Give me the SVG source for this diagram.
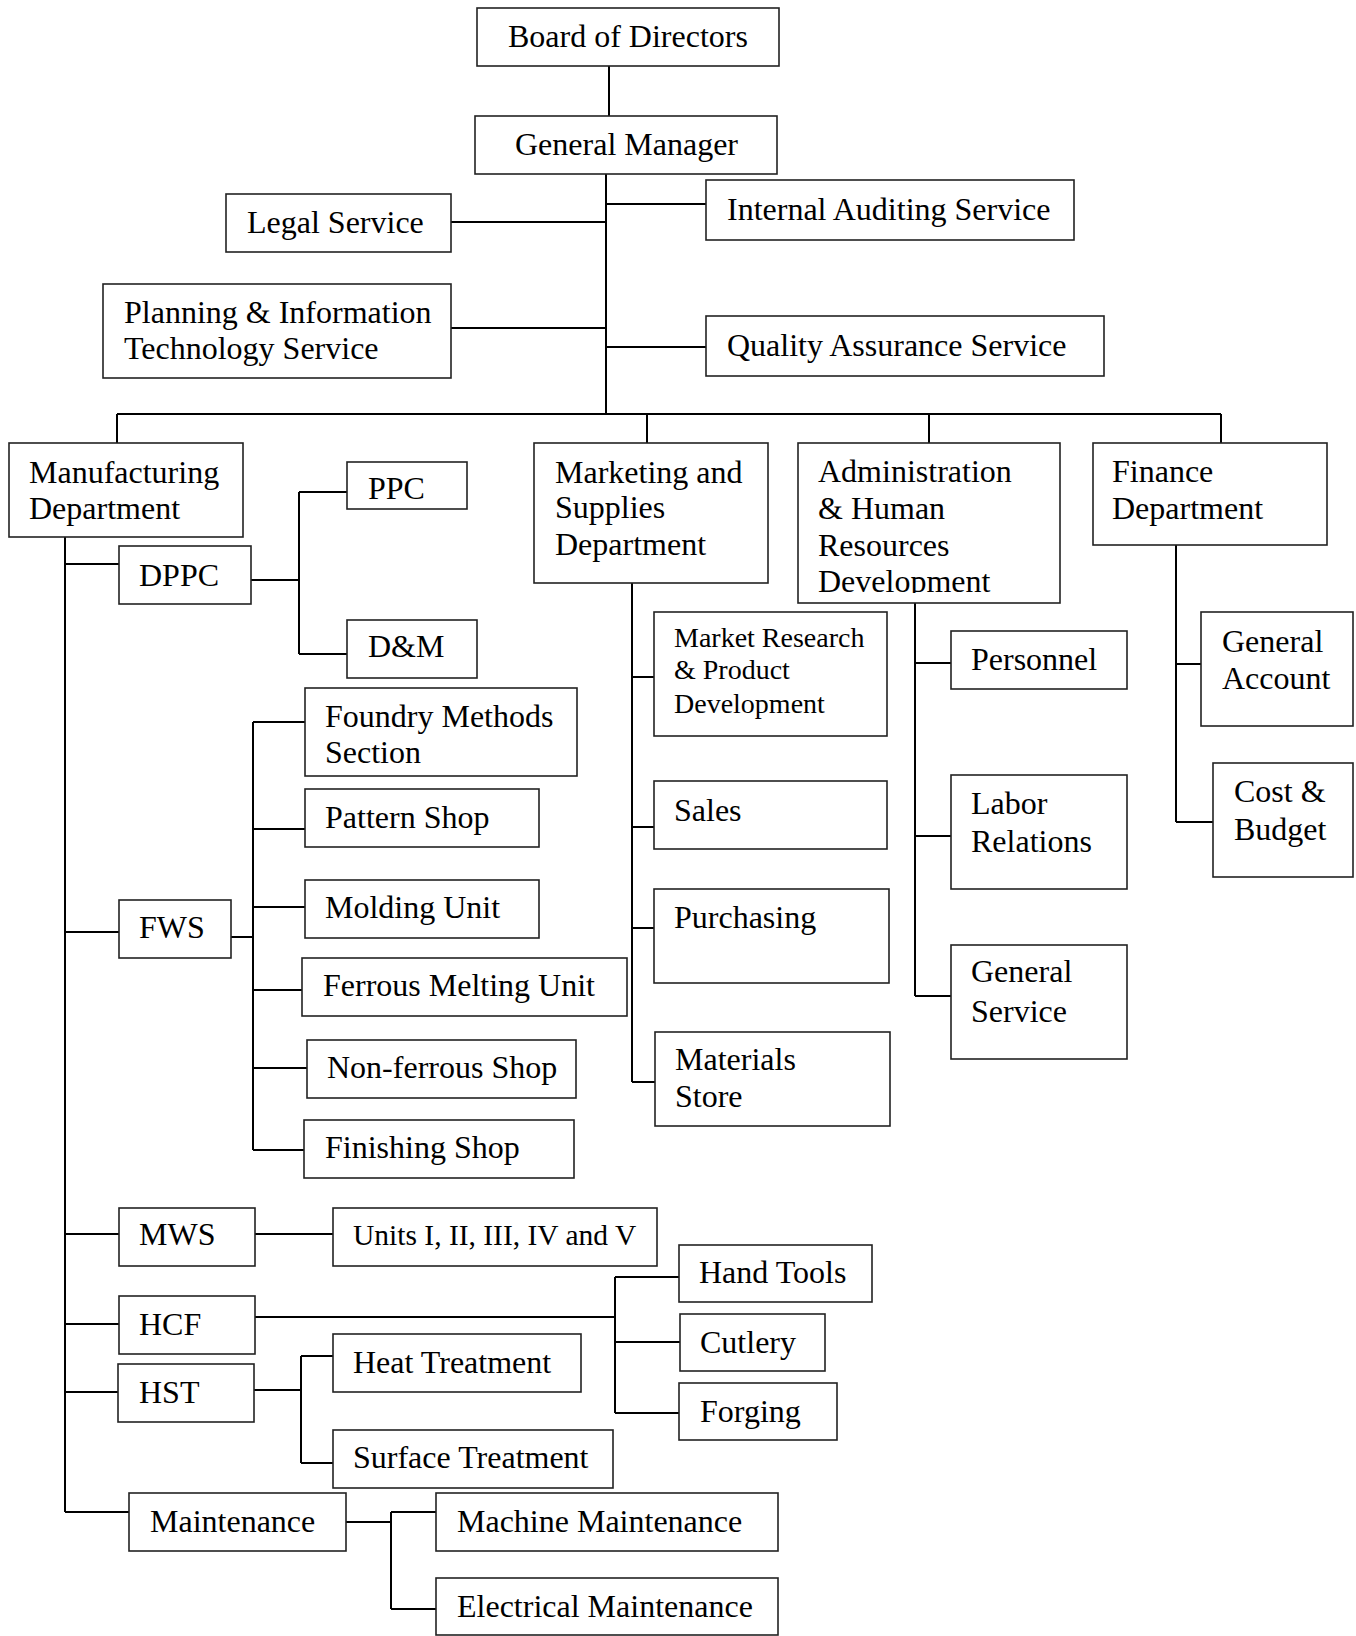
<svg xmlns="http://www.w3.org/2000/svg" width="1356" height="1636" viewBox="0 0 1356 1636">
<style>
rect{fill:#fff;stroke:#222;stroke-width:1.6}
text{font-family:"Liberation Serif","Times New Roman",serif;font-size:32px;fill:#000}
text.s{font-size:28px}
text.u{font-size:29.5px}
#connectors path{fill:none;stroke:#000;stroke-width:2}
</style>
<defs>
<clipPath id="clipAdmin"><rect x="790" y="440" width="280" height="153"/></clipPath>
<clipPath id="clipPPC"><rect x="340" y="455" width="140" height="45"/></clipPath>
</defs>
<rect x="0" y="0" width="1356" height="1636" style="fill:#fff;stroke:none"/>
<g id="connectors">
<path d="M609,66V116"/>
<path d="M606,174V414"/>
<path d="M606,204H706"/>
<path d="M451,222H606"/>
<path d="M451,328H606"/>
<path d="M606,347H706"/>
<path d="M117,414H1221M117,414V443M647,414V443M929,414V443M1221,414V443"/>
<path d="M65,537V1512"/>
<path d="M65,564H119M251,580H299M299,492V654M299,492H347M299,654H347"/>
<path d="M65,932H119M231,937H253M253,722V1150M253,722H305M253,829H305M253,907H305M253,990H302M253,1068H307M253,1150H304"/>
<path d="M65,1234H119M255,1234H333"/>
<path d="M65,1324H119M255,1317H615M615,1277V1413M615,1277H679M615,1342H680M615,1413H679"/>
<path d="M65,1392H118M254,1390H301M301,1356V1463M301,1356H333M301,1463H333"/>
<path d="M65,1512H129M346,1522H391M391,1512V1609M391,1512H436M391,1609H436"/>
<path d="M632,583V1082M632,677H654M632,827H654M632,928H654M632,1082H655"/>
<path d="M915,603V996M915,663H951M915,836H951M915,996H951"/>
<path d="M1176,545V822M1176,664H1201M1176,822H1213"/>
</g>
<g id="board"><rect x="477" y="8" width="302" height="58"/><text x="508" y="47">Board of Directors</text></g>
<g id="gm"><rect x="475" y="116" width="302" height="58"/><text x="515" y="155">General Manager</text></g>
<g id="legal"><rect x="226" y="194" width="225" height="58"/><text x="247" y="233">Legal Service</text></g>
<g id="planning"><rect x="103" y="284" width="348" height="94"/><text x="124" y="323">Planning &amp; Information</text><text x="124" y="359">Technology Service</text></g>
<g id="audit"><rect x="706" y="180" width="368" height="60"/><text x="727" y="220">Internal Auditing Service</text></g>
<g id="qa"><rect x="706" y="316" width="398" height="60"/><text x="727" y="356">Quality Assurance Service</text></g>
<g id="manufacturing"><rect x="9" y="443" width="234" height="94"/><text x="29" y="483">Manufacturing</text><text x="29" y="519">Department</text></g>
<g id="marketing"><rect x="534" y="443" width="234" height="140"/><text x="555" y="483">Marketing and</text><text x="555" y="518">Supplies</text><text x="555" y="555">Department</text></g>
<g id="admin"><rect x="798" y="443" width="262" height="160"/><g clip-path="url(#clipAdmin)"><text x="818" y="482">Administration</text><text x="818" y="519">&amp; Human</text><text x="818" y="556">Resources</text><text x="818" y="592">Development</text></g></g>
<g id="finance"><rect x="1093" y="443" width="234" height="102"/><text x="1112" y="482">Finance</text><text x="1112" y="519">Department</text></g>
<g id="dppc"><rect x="119" y="546" width="132" height="58"/><text x="139" y="586">DPPC</text></g>
<g id="ppc"><rect x="347" y="462" width="120" height="47"/><text x="368" y="499" clip-path="url(#clipPPC)">PPC</text></g>
<g id="dm"><rect x="347" y="620" width="130" height="58"/><text x="368" y="657">D&amp;M</text></g>
<g id="foundry"><rect x="305" y="688" width="272" height="88"/><text x="325" y="727">Foundry Methods</text><text x="325" y="763">Section</text></g>
<g id="pattern"><rect x="305" y="789" width="234" height="58"/><text x="325" y="828">Pattern Shop</text></g>
<g id="fws"><rect x="119" y="900" width="112" height="58"/><text x="139" y="938">FWS</text></g>
<g id="molding"><rect x="305" y="880" width="234" height="58"/><text x="325" y="918">Molding Unit</text></g>
<g id="ferrous"><rect x="302" y="958" width="325" height="58"/><text x="323" y="996">Ferrous Melting Unit</text></g>
<g id="nonferrous"><rect x="307" y="1040" width="269" height="58"/><text x="327" y="1078">Non-ferrous Shop</text></g>
<g id="finishing"><rect x="304" y="1120" width="270" height="58"/><text x="325" y="1158">Finishing Shop</text></g>
<g id="mws"><rect x="119" y="1208" width="136" height="58"/><text x="139" y="1245">MWS</text></g>
<g id="units"><rect x="333" y="1208" width="324" height="58"/><text class="u" x="353" y="1245">Units I, II, III, IV and V</text></g>
<g id="hcf"><rect x="119" y="1296" width="136" height="58"/><text x="139" y="1335">HCF</text></g>
<g id="hst"><rect x="118" y="1364" width="136" height="58"/><text x="139" y="1403">HST</text></g>
<g id="heat"><rect x="333" y="1334" width="248" height="58"/><text x="353" y="1373">Heat Treatment</text></g>
<g id="surface"><rect x="333" y="1430" width="280" height="58"/><text x="353" y="1468">Surface Treatment</text></g>
<g id="maintenance"><rect x="129" y="1493" width="217" height="58"/><text x="150" y="1532">Maintenance</text></g>
<g id="machine"><rect x="436" y="1493" width="342" height="58"/><text x="457" y="1532">Machine Maintenance</text></g>
<g id="electrical"><rect x="436" y="1578" width="342" height="57"/><text x="457" y="1617">Electrical Maintenance</text></g>
<g id="handtools"><rect x="679" y="1245" width="193" height="57"/><text x="699" y="1283">Hand Tools</text></g>
<g id="cutlery"><rect x="680" y="1314" width="145" height="57"/><text x="700" y="1353">Cutlery</text></g>
<g id="forging"><rect x="679" y="1383" width="158" height="57"/><text x="700" y="1422">Forging</text></g>
<g id="market-research"><rect x="654" y="612" width="233" height="124"/><text class="s" x="674" y="647">Market Research</text><text class="s" x="674" y="679">&amp; Product</text><text class="s" x="674" y="713">Development</text></g>
<g id="sales"><rect x="654" y="781" width="233" height="68"/><text x="674" y="821">Sales</text></g>
<g id="purchasing"><rect x="654" y="889" width="235" height="94"/><text x="674" y="928">Purchasing</text></g>
<g id="materials"><rect x="655" y="1032" width="235" height="94"/><text x="675" y="1070">Materials</text><text x="675" y="1107">Store</text></g>
<g id="personnel"><rect x="951" y="631" width="176" height="58"/><text x="971" y="670">Personnel</text></g>
<g id="labor"><rect x="951" y="775" width="176" height="114"/><text x="971" y="814">Labor</text><text x="971" y="852">Relations</text></g>
<g id="general-service"><rect x="951" y="945" width="176" height="114"/><text x="971" y="982">General</text><text x="971" y="1022">Service</text></g>
<g id="general-account"><rect x="1201" y="612" width="152" height="114"/><text x="1222" y="652">General</text><text x="1222" y="689">Account</text></g>
<g id="cost-budget"><rect x="1213" y="763" width="140" height="114"/><text x="1234" y="802">Cost &amp;</text><text x="1234" y="840">Budget</text></g>
</svg>
